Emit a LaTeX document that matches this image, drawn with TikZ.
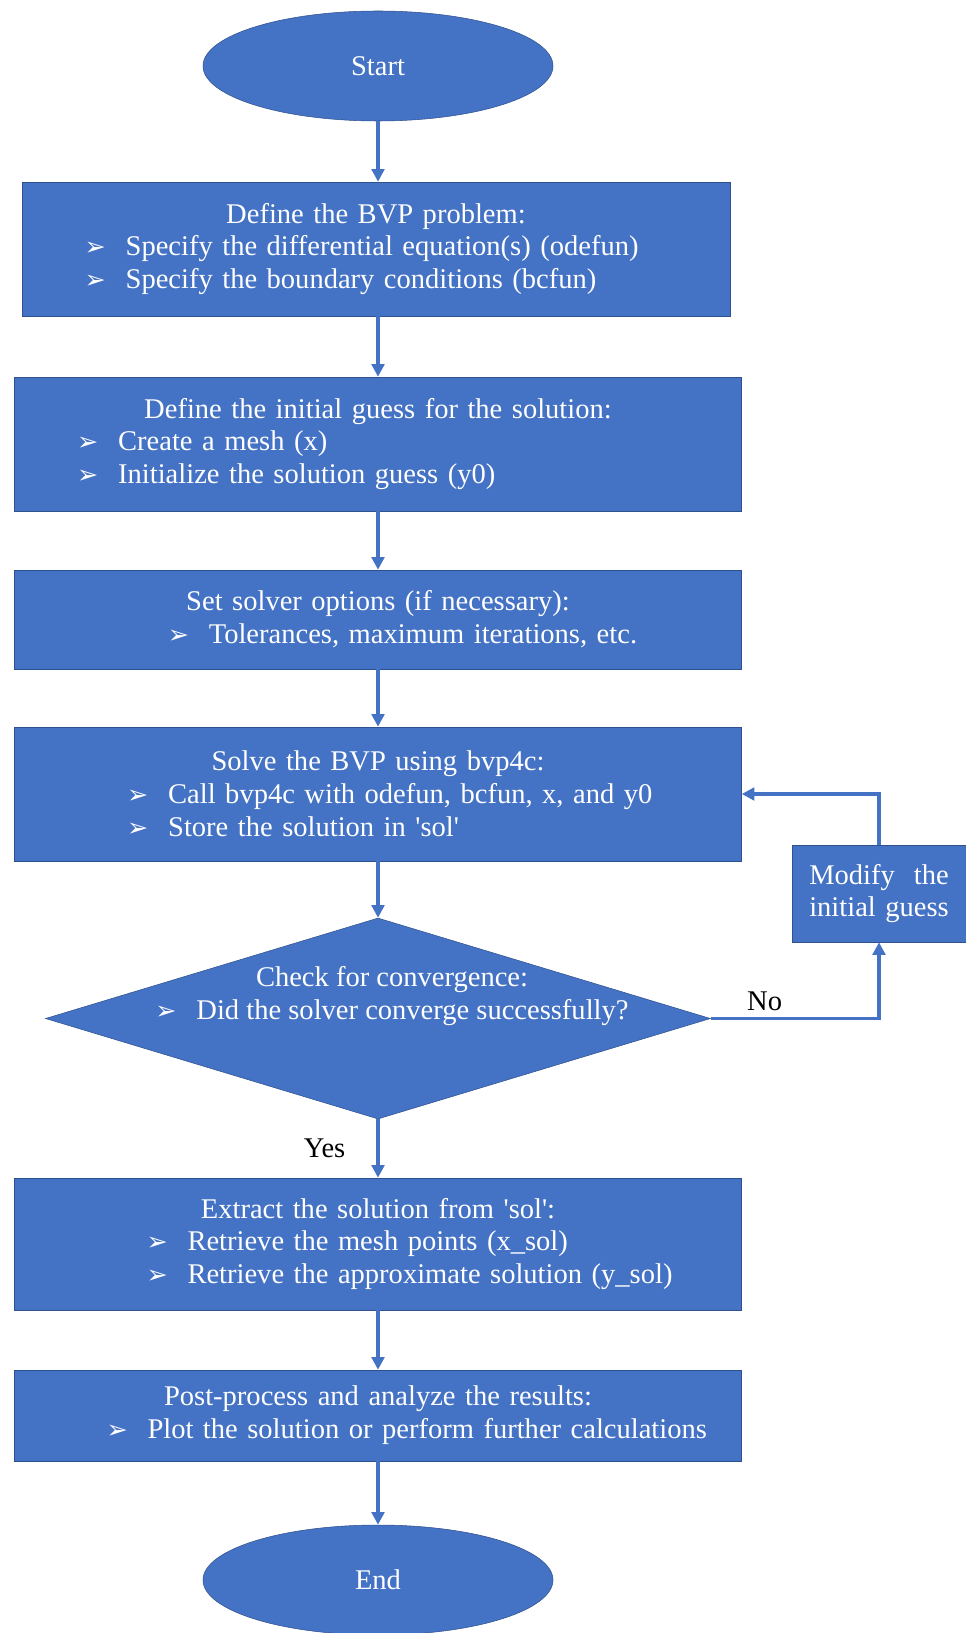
\documentclass[tikz,border=0pt]{standalone}
\usepackage{fontspec}
\setmainfont{Liberation Serif}
\newfontfamily\symfont{DejaVu Sans}
\usetikzlibrary{shapes.geometric, arrows.meta, positioning}
\definecolor{boxblue}{HTML}{4472C4}
\definecolor{boxedge}{HTML}{2F528F}
\newcommand{\blt}{\makebox[30.75pt][l]{{\symfont\fontsize{19}{19}\selectfont ➢}}}
\newcommand{\itm}[2]{\makebox[\hsize][l]{\hspace*{#1}\blt #2}}

\begin{document}
\begin{tikzpicture}[x=0.75pt, y=-0.75pt, font=\fontsize{21.4}{24.6}\selectfont,
    term/.style={ellipse, fill=boxblue, draw=boxedge, text=white, minimum width=262.5pt, minimum height=82.5pt},
    stepbox/.style={rectangle, fill=boxblue, draw=boxedge, text=white, minimum width=545.25pt, text width=545.25pt, inner xsep=0pt, align=center},
    decision/.style={diamond, fill=boxblue, draw=boxedge, minimum width=498.75pt, minimum height=150.75pt, inner sep=0pt},
    flow/.style={-{Triangle[width=9.5pt,length=9.5pt]}, draw=boxblue, line width=2.4pt}]
    \useasboundingbox (0,0) rectangle (966,1633);
    \node[term] (start) at (378,66) {Start};
    \node[stepbox, minimum width=531pt, text width=531pt, minimum height=100.5pt] (define) at (376,249) {Define the BVP problem:\\ \itm{47pt}{Specify the differential equation(s) (odefun)}\\ \itm{47pt}{Specify the boundary conditions (bcfun)}};
    \node[stepbox, minimum height=100.5pt] (guess) at (378,444) {Define the initial guess for the solution:\\ \itm{47pt}{Create a mesh (x)}\\ \itm{47pt}{Initialize the solution guess (y0)}};
    \node[stepbox, minimum height=74.25pt] (opts) at (378,619.5) {Set solver options (if necessary):\\ \itm{115pt}{Tolerances, maximum iterations, etc.}};
    \node[stepbox, minimum height=100.5pt] (solve) at (378,794) {Solve the BVP using bvp4c:\\ \itm{84.5pt}{Call bvp4c with odefun, bcfun, x, and y0}\\ \itm{84.5pt}{Store the solution in \textquotesingle sol\textquotesingle}};
    \node[decision] (check) at (378,1018.5) {};
    \node[text=white, align=center] (checktxt) at (392,996) {Check for convergence:\\ \blt Did the solver converge successfully?};
    \node[stepbox, minimum width=130.5pt, text width=130.5pt, minimum height=72.75pt] (modify) at (879,893.5) {Modify\ \ the\\ initial guess};
    \node[stepbox, minimum height=99pt] (extract) at (378,1244) {Extract the solution from \textquotesingle sol\textquotesingle:\\ \itm{99pt}{Retrieve the mesh points (x\_sol)}\\ \itm{99pt}{Retrieve the approximate solution (y\_sol)}};
    \node[stepbox, minimum height=68.25pt] (post) at (378,1415.5) {Post-process and analyze the results:\\ \itm{69pt}{Plot the solution or perform further calculations}};
    \node[term] (stop) at (378,1580) {End};
    \draw[flow] (start) -- (start |- define.north);
    \draw[flow] (define.south -| start) -- (guess);
    \draw[flow] (guess) -- (opts);
    \draw[flow] (opts) -- (solve);
    \draw[flow] (solve) -- (check);
    \draw[flow] (check) -- node[left=20pt] {Yes} (extract);
    \draw[flow] (check.east) -| node[above=1pt, pos=0.16] {No} (modify.south);
    \draw[flow] (modify.north) |- (solve.east);
    \draw[flow] (extract) -- (post);
    \draw[flow] (post) -- (stop);
\end{tikzpicture}
\end{document}
